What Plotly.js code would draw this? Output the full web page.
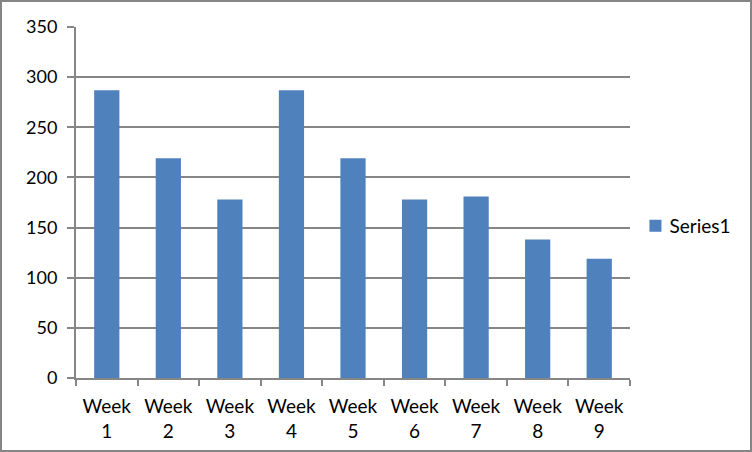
<!DOCTYPE html>
<html>
<head>
<meta charset="utf-8">
<script src="https://cdn.plot.ly/plotly-3.0.1.min.js"></script>
<style>
  html, body { margin: 0; padding: 0; background: #fff; }
  #wrap { position: relative; width: 752px; height: 452px; }
  #chart { width: 752px; height: 452px; }
  #frame { position: absolute; left: 0; top: 0; width: 752px; height: 452px;
           box-sizing: border-box; border: 2px solid #868686; pointer-events: none; }
</style>
</head>
<body>
<div id="wrap">
  <div id="chart"></div>
  <div id="frame"></div>
</div>
<script>
const categories = ["Week<br>1", "Week<br>2", "Week<br>3", "Week<br>4", "Week<br>5",
                    "Week<br>6", "Week<br>7", "Week<br>8", "Week<br>9"];
const series1 = [287, 219, 178, 287, 219, 178, 181, 138, 119];
const yTicks = [0, 50, 100, 150, 200, 250, 300, 350];
const seriesName = "Series1";

const fontFam = "Lato, 'Liberation Sans', sans-serif";
const gridColor = "#868686";

const data = [{
  type: "bar",
  x: categories,
  y: series1,
  name: seriesName,
  marker: { color: "#4F81BD", line: { width: 0 } },
  showlegend: true,
  hoverinfo: "x+y"
}];

const layout = {
  width: 752,
  height: 452,
  margin: { l: 76, r: 122, t: 27, b: 74, pad: 0 },
  paper_bgcolor: "#ffffff",
  plot_bgcolor: "#ffffff",
  font: { family: fontFam, size: 18, color: "#000000" },
  bargap: 0.59,
  showlegend: true,
  legend: {
    x: 0.999, xanchor: "left",
    y: 0.433, yanchor: "middle",
    font: { family: fontFam, size: 19, color: "#000" },
    bgcolor: "rgba(0,0,0,0)",
    itemwidth: 30
  },
  xaxis: {
    type: "category",
    showgrid: false,
    showline: true,
    linecolor: gridColor,
    linewidth: 2,
    ticks: "outside",
    tickson: "boundaries",
    ticklen: 6,
    tickwidth: 2,
    tickcolor: gridColor,
    tickfont: { family: fontFam, size: 19, color: "#000" },
    ticklabelstandoff: 10,
    fixedrange: true
  },
  yaxis: {
    range: [0, 350],
    tickvals: yTicks,
    ticktext: yTicks.map(String),
    showgrid: true,
    gridcolor: gridColor,
    gridwidth: 2,
    zeroline: false,
    showline: true,
    linecolor: gridColor,
    linewidth: 2,
    ticks: "outside",
    ticklen: 7,
    tickwidth: 2,
    tickcolor: gridColor,
    tickfont: { family: fontFam, size: 18, color: "#000" },
    ticklabelstandoff: 6,
    fixedrange: true
  }
};

Plotly.newPlot("chart", data, layout, { displayModeBar: false, staticPlot: true }).then(function (gd) {
  // nudge the legend swatch closer to its label, as in the reference
  gd.querySelectorAll(".legend .legendpoints").forEach(function (g) {
    g.setAttribute("transform", "translate(6,0)");
  });
});
</script>
</body>
</html>
